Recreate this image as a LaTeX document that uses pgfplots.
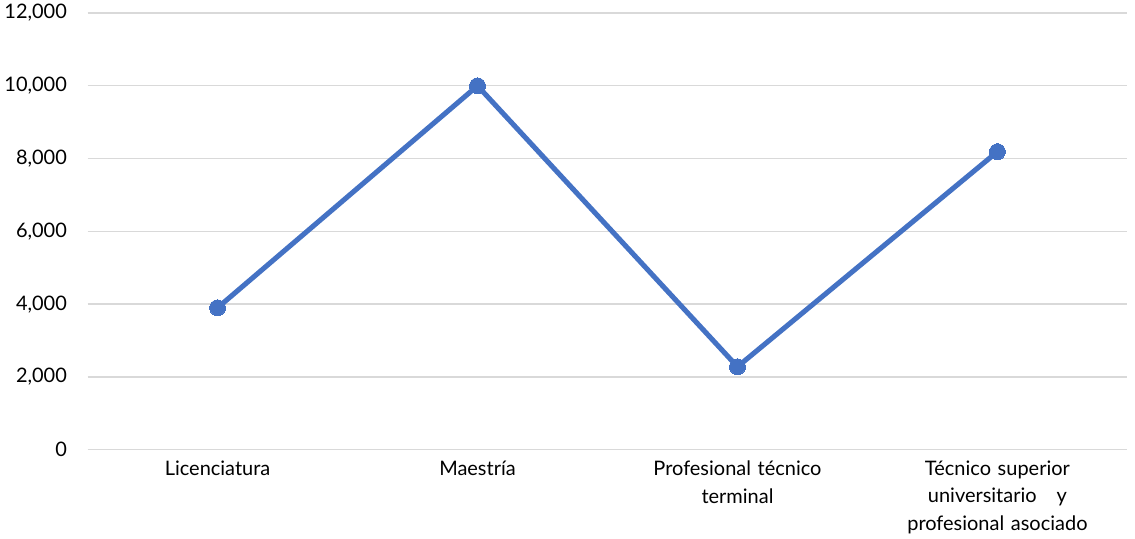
\documentclass[border=0pt]{standalone}
\usepackage{pgfplots}
\pgfplotsset{compat=1.18}
\usepackage{fontspec}
\setmainfont{Lato}
\definecolor{lineblue}{HTML}{4472C4}
\definecolor{gridgray}{HTML}{D9D9D9}
\begin{document}
\begin{tikzpicture}
\begin{axis}[
    scale only axis,
    width=781pt,
    height=328pt,
    xmin=-0.5, xmax=3.5,
    ymin=0, ymax=12000,
    ytick={0,2000,...,12000},
    scaled y ticks=false,
    xtick={0,1,2,3},
    xticklabels={Licenciatura, Maestría, Profesional técnico\\terminal, Técnico superior\\universitario \ \ y\\profesional asociado},
    xticklabel style={align=center, text width=200pt, font=\fontsize{15}{20.5}\selectfont, yshift=-5pt},
    yticklabel style={font=\fontsize{15}{18}\selectfont, xshift=-12pt},
    /pgf/number format/assume math mode=true,
    /pgf/number format/.cd, fixed, 1000 sep={,}, /pgfplots/.cd,
    ymajorgrids,
    grid style={gridgray, line width=1pt},
    axis line style={draw=none},
    major tick length=0pt,
    clip=false,
]
\addplot[lineblue, line width=3.8pt, mark=*, mark size=6pt, mark options={fill=lineblue, draw=lineblue, line width=0pt}]
    coordinates {(0,3900) (1,10000) (2,2280) (3,8190)};
\end{axis}
\end{tikzpicture}
\end{document}
